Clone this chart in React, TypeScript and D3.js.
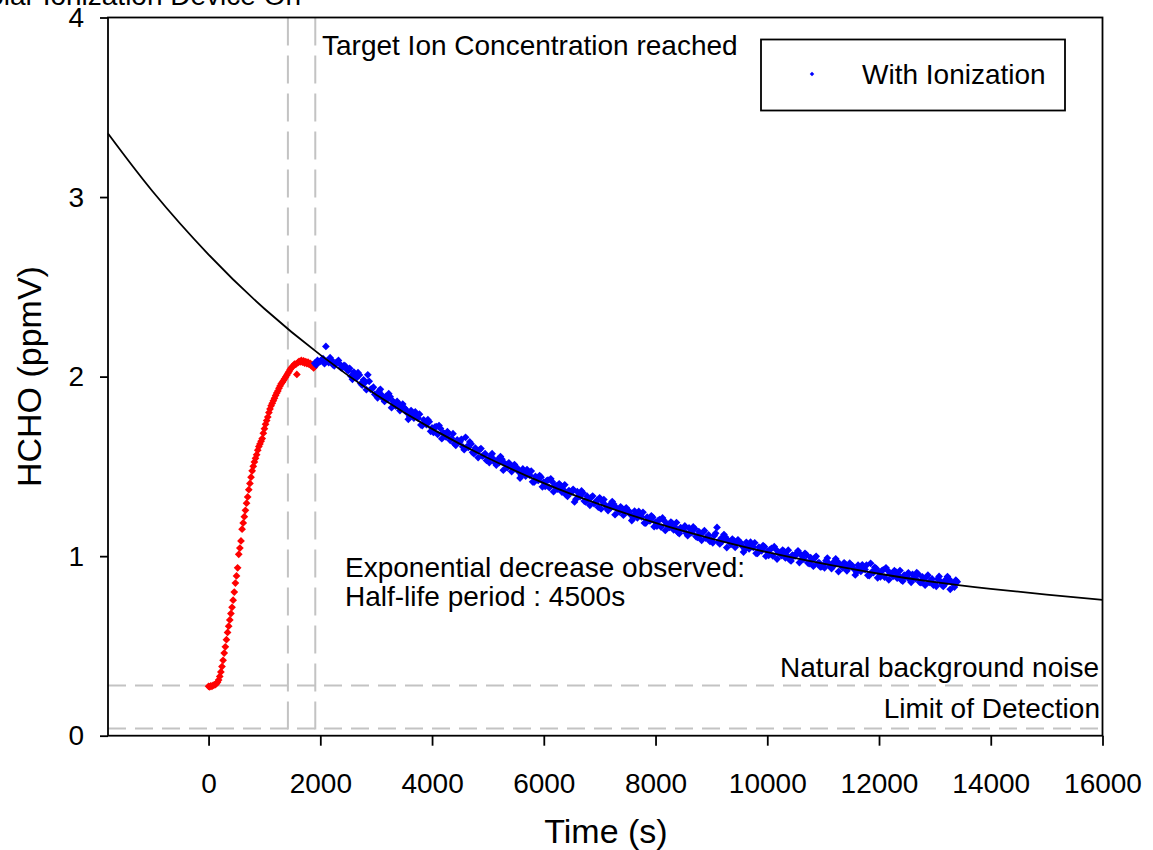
import React, { useEffect, useRef } from "react";
import * as d3 from "d3";

// red: before the target ion concentration is reached, sampled every 20 s from t = 0
const RED_T0 = 0;
const RED_DT = 20;
const RED_VALUES = [
  0.275, 0.272, 0.278, 0.275, 0.28, 0.283, 0.285, 0.29, 0.298, 0.31,
  0.33, 0.355, 0.385, 0.42, 0.46, 0.495, 0.535, 0.575, 0.61, 0.645,
  0.68, 0.715, 0.755, 0.8, 0.85, 0.89, 0.935, 1.01, 1.045, 1.085,
  1.15, 1.185, 1.22, 1.255, 1.295, 1.33, 1.37, 1.405, 1.44, 1.475,
  1.5, 1.525, 1.545, 1.565, 1.59, 1.61, 1.625, 1.64, 1.655, 1.685,
  1.71, 1.735, 1.755, 1.775, 1.8, 1.82, 1.838, 1.852, 1.866, 1.88,
  1.895, 1.908, 1.92, 1.935, 1.948, 1.96, 1.968, 1.978, 1.988, 1.998,
  2.008, 2.018, 2.028, 2.04, 2.048, 2.055, 2.062, 2.07, 2.068, 2.012,
  2.078, 2.085, 2.082, 2.09, 2.08, 2.088, 2.075, 2.083, 2.072, 2.08,
  2.068, 2.074, 2.06, 2.065, 2.048, 2.055,
];

// blue: "With Ionization", two interleaved sample sets (every 50 s from 1900 and from 1925)
const BLUE_T0 = 1900;
const BLUE_DT = 50;
const BLUE_VALUES = [
  2.075, 2.09,
  2.085, 2.1, 2.168, 2.078, 2.092, 2.06, 2.081, 2.07, 2.052, 2.058,
  2.033, 2.002, 2.025, 1.993, 2.009, 1.953, 1.967, 2.01, 1.929, 1.941,
  1.899, 1.919, 1.897, 1.862, 1.873, 1.888, 1.863, 1.836, 1.85, 1.828,
  1.827, 1.799, 1.776, 1.793, 1.803, 1.769, 1.731, 1.759, 1.733, 1.749,
  1.714, 1.719, 1.678, 1.711, 1.686, 1.664, 1.683, 1.656, 1.626, 1.647,
  1.637, 1.609, 1.662, 1.606, 1.625, 1.571, 1.588, 1.592, 1.557, 1.571,
  1.537, 1.56, 1.541, 1.507, 1.521, 1.539, 1.517, 1.493, 1.508, 1.489,
  1.496, 1.47, 1.449, 1.47, 1.482, 1.45, 1.414, 1.444, 1.422, 1.44,
  1.412, 1.419, 1.381, 1.415, 1.393, 1.373, 1.394, 1.37, 1.341, 1.365,
  1.357, 1.302, 1.359, 1.332, 1.353, 1.302, 1.321, 1.327, 1.293, 1.31,
  1.325, 1.303, 1.285, 1.254, 1.27, 1.29, 1.269, 1.247, 1.265, 1.247,
  1.256, 1.232, 1.213, 1.235, 1.249, 1.219, 1.185, 1.217, 1.196, 1.216,
  1.19, 1.199, 1.162, 1.199, 1.178, 1.16, 1.182, 1.16, 1.133, 1.159,
  1.152, 1.128, 1.157, 1.131, 1.154, 1.104, 1.125, 1.133, 1.1, 1.118,
  1.088, 1.114, 1.16, 1.068, 1.085, 1.106, 1.087, 1.066, 1.085, 1.069,
  1.079, 1.056, 1.039, 1.062, 1.078, 1.049, 1.016, 1.05, 1.03, 1.052,
  1.027, 1.037, 1.001, 1.039, 1.02, 1.003, 1.026, 1.005, 0.98, 1.006,
  1.001, 1.03, 1.008, 0.984, 1.008, 0.958, 0.98, 0.989, 0.958, 0.94,
  0.948, 0.975, 0.96, 0.931, 0.949, 0.972, 0.954, 0.934, 0.954, 0.939,
  0.95, 0.928, 0.912, 0.936, 0.952, 0.925, 0.893, 0.96, 0.908, 0.931,
  0.907, 0.918, 0.883, 0.922, 0.903, 0.887, 0.912, 0.891, 0.867, 0.894,
  0.89, 0.868, 0.898, 0.875, 0.9, 0.852, 0.874, 0.884, 0.854, 0.873,
  0.845, 0.873, 0.859, 0.831, 0.85, 0.873, 0.855, 0.828, 0.857,
];
const BLUE_B_T0 = 1925;
const BLUE_B_VALUES = [
  2.065, 2.082,
  2.095, 2.072, 2.088, 2.105, 2.066, 2.075, 2.09, 2.048, 2.062, 2.04,
  2.046, 1.985, 1.999, 2.022, 1.961, 1.982, 1.927, 1.974, 1.932, 1.901,
  1.882, 1.929, 1.876, 1.89, 1.905, 1.827, 1.853, 1.862, 1.811, 1.847,
  1.819, 1.762, 1.811, 1.769, 1.787, 1.791, 1.727, 1.741, 1.76, 1.695,
  1.689, 1.722, 1.727, 1.654, 1.683, 1.693, 1.645, 1.682, 1.617, 1.638,
  1.651, 1.593, 1.61, 1.636, 1.578, 1.602, 1.549, 1.599, 1.561, 1.533,
  1.521, 1.571, 1.521, 1.537, 1.555, 1.479, 1.508, 1.52, 1.471, 1.51,
  1.49, 1.435, 1.486, 1.446, 1.466, 1.474, 1.412, 1.428, 1.449, 1.386,
  1.388, 1.424, 1.431, 1.359, 1.391, 1.403, 1.357, 1.397, 1.333, 1.357,
  1.372, 1.317, 1.336, 1.363, 1.307, 1.334, 1.283, 1.335, 1.299, 1.273,
  1.263, 1.315, 1.267, 1.284, 1.304, 1.231, 1.261, 1.275, 1.228, 1.269,
  1.251, 1.198, 1.251, 1.213, 1.235, 1.244, 1.184, 1.202, 1.225, 1.164,
  1.167, 1.204, 1.213, 1.143, 1.177, 1.19, 1.146, 1.187, 1.126, 1.151,
  1.168, 1.114, 1.135, 1.163, 1.109, 1.137, 1.088, 1.142, 1.106, 1.082,
  1.074, 1.127, 1.08, 1.099, 1.12, 1.048, 1.08, 1.095, 1.049, 1.091,
  1.074, 1.023, 1.077, 1.04, 1.064, 1.074, 1.016, 1.035, 1.059, 1.0,
  1.004, 1.043, 1.053, 0.984, 1.019, 1.034, 0.99, 1.033, 0.973, 1.0,
  1.017, 0.964, 0.986, 1.016, 0.963, 0.992, 0.944, 0.999, 0.964, 0.941,
  0.935, 0.989, 0.943, 0.963, 0.985, 0.914, 0.947, 0.963, 0.918, 0.961,
  0.946, 0.895, 0.95, 0.915, 0.939, 0.95, 0.892, 0.913, 0.938, 0.879,
  0.885, 0.924, 0.935, 0.868, 0.903, 0.919, 0.877, 0.92, 0.861, 0.888,
  0.907, 0.854, 0.877, 0.908, 0.856, 0.885, 0.838, 0.894, 0.861, 0.838,
  0.832, 0.887, 0.842, 0.863, 0.886, 0.815, 0.849, 0.866,
];

// exponential fit
const FIT_T = [
  -1800, -1000, 0, 1000, 2000, 3000, 4000, 5000, 6000, 7000, 8000, 9000,
  10000, 11000, 12000, 13000, 14000, 15000, 16000,
];
const FIT_V = [
  3.354, 3.031, 2.68, 2.378, 2.121, 1.899, 1.709, 1.547, 1.407, 1.288, 1.185,
  1.098, 1.022, 0.958, 0.902, 0.855, 0.818, 0.786, 0.757,
];

const X_TICKS = [0, 2000, 4000, 6000, 8000, 10000, 12000, 14000, 16000];
const Y_TICKS = [0, 1, 2, 3, 4];

const DEVICE_ON_T = 1420;
const TARGET_T = 1910;
const NOISE_LEVEL = 0.28;
const LOD_LEVEL = 0.04;

const FONT = "'Liberation Sans', Arial, Helvetica, sans-serif";

const App: React.FC = () => {
  const svgRef = useRef<SVGSVGElement>(null);

  useEffect(() => {
    if (!svgRef.current) return;
    const svg = d3.select(svgRef.current);
    svg.selectAll("*").remove();

    const left = 108;
    const right = 1102.5;
    const top = 17.5;
    const bottom = 735.7;

    const x = d3.scaleLinear().domain([-1800, 16000]).range([left, right]);
    const y = d3.scaleLinear().domain([0, 4]).range([bottom, top]);

    const red = RED_VALUES.map((v, i) => ({ t: RED_T0 + i * RED_DT, v }));
    const blue = [
      ...BLUE_VALUES.map((v, i) => ({ t: BLUE_T0 + i * BLUE_DT, v })),
      ...BLUE_B_VALUES.map((v, i) => ({ t: BLUE_B_T0 + i * BLUE_DT, v })),
    ];
    const fit = FIT_T.map((t, i) => ({ t, v: FIT_V[i] }));

    // dashed reference lines
    const grey = "#c3c3c3";
    [DEVICE_ON_T, TARGET_T].forEach((t) => {
      svg
        .append("line")
        .attr("x1", x(t))
        .attr("x2", x(t))
        .attr("y1", top)
        .attr("y2", bottom)
        .attr("stroke", grey)
        .attr("stroke-width", 2)
        .attr("stroke-dasharray", "28,10");
    });
    [NOISE_LEVEL, LOD_LEVEL].forEach((v) => {
      svg
        .append("line")
        .attr("x1", left)
        .attr("x2", right)
        .attr("y1", y(v))
        .attr("y2", y(v))
        .attr("stroke", grey)
        .attr("stroke-width", 2)
        .attr("stroke-dasharray", "18,9");
    });

    const marker = d3.symbol().type(d3.symbolSquare).size(30);

    svg
      .append("g")
      .selectAll("path")
      .data(red)
      .join("path")
      .attr("d", marker())
      .attr("transform", (d) => `translate(${x(d.t)},${y(d.v)}) rotate(45)`)
      .attr("fill", "#ff0000");

    svg
      .append("g")
      .selectAll("path")
      .data(blue)
      .join("path")
      .attr("d", marker())
      .attr("transform", (d) => `translate(${x(d.t)},${y(d.v)}) rotate(45)`)
      .attr("fill", "#0000ff");

    // fit curve
    const line = d3
      .line<{ t: number; v: number }>()
      .x((d) => x(d.t))
      .y((d) => y(d.v))
      .curve(d3.curveNatural);

    svg
      .append("path")
      .datum(fit)
      .attr("fill", "none")
      .attr("stroke", "#000")
      .attr("stroke-width", 1.8)
      .attr("d", line);

    // axes
    const xAxis = svg
      .append("g")
      .attr("transform", `translate(0,${bottom})`)
      .call(
        d3
          .axisBottom(x)
          .tickValues(X_TICKS)
          .tickSize(10)
          .tickPadding(27)
          .tickFormat((d) => String(d))
      );
    const yAxis = svg
      .append("g")
      .attr("transform", `translate(${left},0)`)
      .call(
        d3
          .axisLeft(y)
          .tickValues(Y_TICKS)
          .tickSize(8)
          .tickPadding(16)
          .tickFormat((d) => String(d))
      );
    [xAxis, yAxis].forEach((g) => {
      g.select(".domain").remove();
      g.selectAll(".tick line").attr("stroke", "#000").attr("stroke-width", 1.8);
      g.selectAll(".tick text")
        .attr("fill", "#000")
        .style("font-family", FONT)
        .style("font-size", "28px");
    });

    // frame
    svg
      .append("rect")
      .attr("x", left)
      .attr("y", top)
      .attr("width", right - left)
      .attr("height", bottom - top)
      .attr("fill", "none")
      .attr("stroke", "#000")
      .attr("stroke-width", 1.8);

    const text = (
      s: string,
      tx: number,
      ty: number,
      size = 28,
      anchor = "start"
    ) =>
      svg
        .append("text")
        .attr("x", tx)
        .attr("y", ty)
        .attr("text-anchor", anchor)
        .style("font-family", FONT)
        .style("font-size", `${size}px`)
        .attr("fill", "#000")
        .text(s);

    text("Bipolar Ionization Device On", 301, 5, 28, "end");
    text("Target Ion Concentration reached", 322, 55);
    text("Exponential decrease observed:", 345, 577);
    text("Half-life period : 4500s", 345, 606);
    text("Natural background noise", 1099, 677, 28, "end");
    text("Limit of Detection", 1100, 718, 28, "end");

    // axis titles
    text("Time (s)", 606, 843, 34, "middle");
    svg
      .append("text")
      .attr("transform", `translate(41,${(top + bottom) / 2}) rotate(-90)`)
      .attr("text-anchor", "middle")
      .style("font-family", FONT)
      .style("font-size", "34px")
      .attr("fill", "#000")
      .text("HCHO (ppmV)");

    // legend
    svg
      .append("rect")
      .attr("x", 761)
      .attr("y", 39.5)
      .attr("width", 304)
      .attr("height", 71)
      .attr("fill", "#fff")
      .attr("stroke", "#000")
      .attr("stroke-width", 1.8);
    svg
      .append("path")
      .attr("d", d3.symbol().type(d3.symbolSquare).size(10)())
      .attr("transform", "translate(812,74) rotate(45)")
      .attr("fill", "#0000ff");
    text("With Ionization", 862, 84);
  }, []);

  return (
    <svg
      ref={svgRef}
      width={1153}
      height={850}
      style={{ position: "absolute", left: 0, top: 0, background: "#fff" }}
    />
  );
};

export default App;
